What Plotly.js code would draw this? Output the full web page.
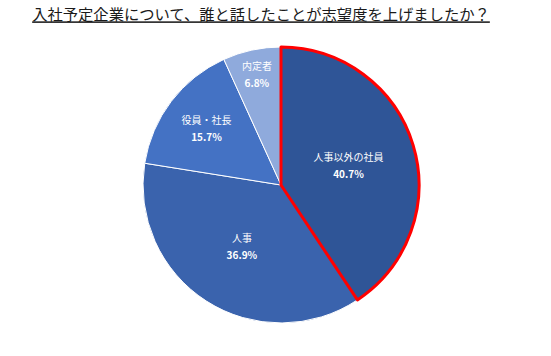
<!DOCTYPE html>
<html>
<head>
<meta charset="utf-8">
<script src="https://cdn.plot.ly/plotly-3.0.1.min.js"></script>
<style>html,body{margin:0;padding:0;background:#fff;}#chart{width:551px;height:356px;}</style>
</head>
<body>
<div id="chart"></div>
<script>
// Data in drawing order (the highlighted slice is drawn last so its outline stays on top)
const categories = ['人事', '役員・社長', '内定者', '人事以外の社員'];
const percentValues = [36.9, 15.7, 6.8, 40.7];
const sliceColors = ['#3A63AD', '#4472C4', '#8FAADC', '#2F5597'];
const lineColors = ['#FFFFFF', '#FFFFFF', '#FFFFFF', '#FF0000'];
const lineWidths = [1, 1, 1, 3];
const titleText = '入社予定企業について、誰と話したことが志望度を上げましたか？';

const total = percentValues.reduce((a, b) => a + b, 0);
const startRotation = percentValues[percentValues.length - 1] / total * 360;

const W = 551, H = 356;
const cx = 281, cy = 185, R = 138;

const trace = {
  type: 'pie',
  labels: categories,
  values: percentValues,
  sort: false,
  direction: 'clockwise',
  rotation: startRotation,
  marker: { colors: sliceColors, line: { color: lineColors, width: lineWidths } },
  texttemplate: '<span style="font-size:10px">%{label}</span><br><span style="font-size:10px"><b>%{value:.1f}%</b></span>',
  textposition: 'inside',
  insidetextorientation: 'horizontal',
  textfont: { family: 'Noto Sans CJK JP', size: 13, color: '#FFFFFF' },
  hoverinfo: 'none',
  showlegend: false,
  domain: {
    x: [(cx - R) / W, (cx + R) / W],
    y: [(H - cy - R) / H, (H - cy + R) / H]
  }
};

const layout = {
  width: W, height: H,
  margin: { l: 0, r: 0, t: 0, b: 0 },
  paper_bgcolor: '#FFFFFF',
  title: {
    text: '<u>' + titleText + '</u>',
    font: { family: 'Noto Sans CJK JP', size: 15.3, color: '#1A1A1A' },
    x: 261 / W, xanchor: 'center',
    y: 1 - 15 / H, yanchor: 'middle'
  },
  showlegend: false
};

Plotly.newPlot('chart', [trace], layout, { staticPlot: true });
</script>
</body>
</html>
